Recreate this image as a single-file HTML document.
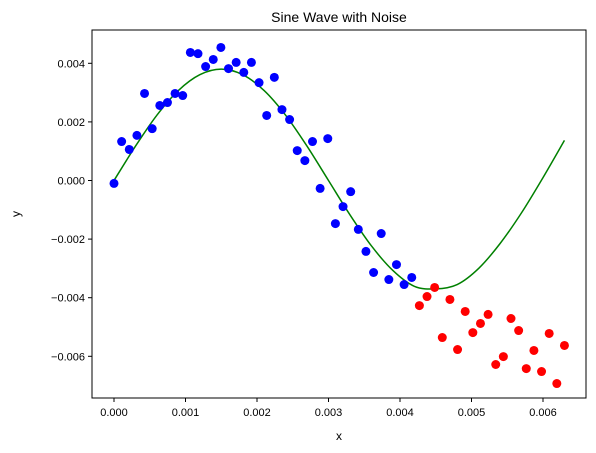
<!DOCTYPE html>
<html><head><meta charset="utf-8"><style>
html,body{margin:0;padding:0;background:#fff;}
svg{display:block;font-family:"Liberation Sans",sans-serif;}
</style></head><body>
<svg id="chart" width="596" height="453">
<rect x="0" y="0" width="596" height="453" fill="#fff"/>
<text x="339" y="22" text-anchor="middle" font-size="14">Sine Wave with Noise</text>
<text x="339" y="440" text-anchor="middle" font-size="12">x</text>
<text x="20" y="214" text-anchor="middle" font-size="12" transform="rotate(-90 20 214)">y</text>
<g id="ticks"></g>
<g id="marks"></g>
<rect x="92" y="30" width="494" height="368" fill="none" stroke="#000" stroke-width="1"/>
</svg>
<script>
const blueY=[-0.0001,0.00133,0.00106,0.00154,0.00297,0.00177,0.00256,0.00266,0.00297,0.0029,0.00437,0.00433,0.00389,0.00413,0.00454,0.00382,0.00403,0.00369,0.00403,0.00334,0.00222,0.00352,0.00242,0.00208,0.00102,0.00068,0.00133,-0.00027,0.00143,-0.00147,-0.00089,-0.00038,-0.00167,-0.00242,-0.00314,-0.00181,-0.00338,-0.00287,-0.00355,-0.00331];
const redY=[-0.00427,-0.00396,-0.00365,-0.00536,-0.00406,-0.00577,-0.00447,-0.00519,-0.00488,-0.00457,-0.00628,-0.00601,-0.00471,-0.00512,-0.00642,-0.0058,-0.00652,-0.00522,-0.00693,-0.00563];
const curveX=[0,0.0003,0.0006,0.0009,0.0012,0.0015,0.0018,0.0021,0.0024,0.0027,0.003,0.0033,0.0036,0.0039,0.0042,0.0045,0.0048,0.0051,0.0054,0.0057,0.006,0.0063];
const curveY=[0,0.00117,0.00223,0.00307,0.00361,0.0038,0.00361,0.00307,0.00223,0.00117,0,-0.00117,-0.00223,-0.00307,-0.00361,-0.0037,-0.00355,-0.003,-0.00215,-0.0011,0.0001,0.00137];
const xTicks=[0,0.001,0.002,0.003,0.004,0.005,0.006];
const xTickLabels=["0.000","0.001","0.002","0.003","0.004","0.005","0.006"];
const yTicks=[0.004,0.002,0,-0.002,-0.004,-0.006];
const yTickLabels=["0.004","0.002","0.000","\u22120.002","\u22120.004","\u22120.006"];
const xMax=0.0063;
const NS='http://www.w3.org/2000/svg';
function sx(v){return 114+v*71500;}
function sy(v){return 180.5-v*29300;}
function mk(t,a){const e=document.createElementNS(NS,t);for(const k in a)e.setAttribute(k,a[k]);return e;}
const tg=document.getElementById('ticks'),mg=document.getElementById('marks');
xTicks.forEach((v,i)=>{
  const l=mk('line',{x1:sx(v),x2:sx(v),y1:398,y2:402,stroke:'#000'});
  
  
  tg.appendChild(l);
  const t=mk('text',{x:sx(v),y:416,'text-anchor':'middle','font-size':11});
  t.textContent=xTickLabels[i];
  
  
  tg.appendChild(t);
});
yTicks.forEach((v,i)=>{
  const l=mk('line',{x1:88,x2:92,y1:sy(v),y2:sy(v),stroke:'#000'});
  
  
  tg.appendChild(l);
  const t=mk('text',{x:85,y:sy(v)+4,'text-anchor':'end','font-size':11});
  t.textContent=yTickLabels[i];
  
  
  tg.appendChild(t);
});
const N=blueY.length+redY.length;
function xAt(i){return i*xMax/(N-1);}
// curve (catmull-rom smoothing)
const P=curveX.map((x,i)=>[sx(x),sy(curveY[i])]);
let d='M'+P[0][0]+','+P[0][1];
for(let i=0;i<P.length-1;i++){
  const p0=P[Math.max(0,i-1)],p1=P[i],p2=P[i+1],p3=P[Math.min(P.length-1,i+2)];
  const c1=[p1[0]+(p2[0]-p0[0])/6,p1[1]+(p2[1]-p0[1])/6];
  const c2=[p2[0]-(p3[0]-p1[0])/6,p2[1]-(p3[1]-p1[1])/6];
  d+=' C'+c1+' '+c2+' '+p2;
}
const path=mk('path',{d:d,fill:'none',stroke:'#008000','stroke-width':1.5});


mg.appendChild(path);
blueY.forEach((v,i)=>{
  const c=mk('circle',{cx:sx(xAt(i)),cy:sy(v),r:4.5,fill:'#0000ff'});
  
  
  mg.appendChild(c);
});
redY.forEach((v,j)=>{
  const c=mk('circle',{cx:sx(xAt(blueY.length+j)),cy:sy(v),r:4.5,fill:'#ff0000'});
  
  
  mg.appendChild(c);
});
</script>
</body></html>
